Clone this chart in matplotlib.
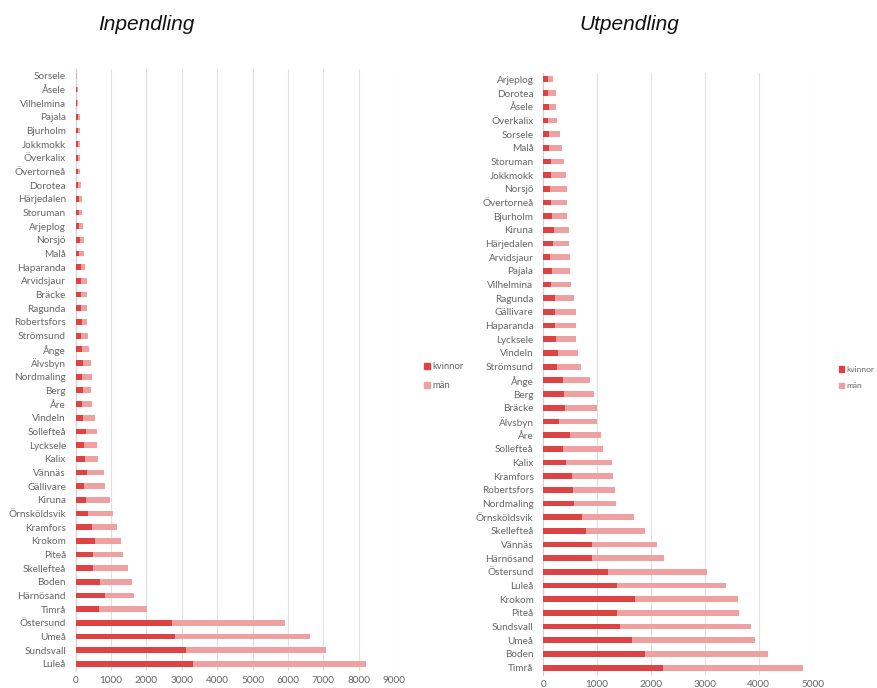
import matplotlib
matplotlib.use("Agg")
import matplotlib.pyplot as plt
from matplotlib.patches import Patch

plt.rcParams['font.family'] = ['Lato', 'DejaVu Sans']

# Inpendling (top to bottom)
in_kommun = ["Sorsele", "Åsele", "Vilhelmina", "Pajala", "Bjurholm", "Jokkmokk",
             "Överkalix", "Övertorneå", "Dorotea", "Härjedalen", "Storuman", "Arjeplog",
             "Norsjö", "Malå", "Haparanda", "Arvidsjaur", "Bräcke", "Ragunda",
             "Robertsfors", "Strömsund", "Ånge", "Älvsbyn", "Nordmaling", "Berg", "Åre",
             "Vindeln", "Sollefteå", "Lycksele", "Kalix", "Vännäs", "Gällivare", "Kiruna",
             "Örnsköldsvik", "Kramfors", "Krokom", "Piteå", "Skellefteå", "Boden",
             "Härnösand", "Timrå", "Östersund", "Umeå", "Sundsvall", "Luleå"]
in_kvinnor = [15, 25, 30, 55, 60, 65, 60, 65, 65, 80, 90, 85,
              113, 104, 160, 150, 150, 141, 179, 160, 179, 198, 169, 217, 179,
              207, 292, 235, 254, 330, 226, 292, 358, 452, 546, 480, 480, 687,
              829, 659, 2731, 2806, 3117, 3324]
in_man = [23, 31, 36, 67, 72, 67, 72, 67, 76, 89, 89, 113,
          113, 141, 113, 161, 180, 189, 151, 198, 198, 235, 283, 226, 292,
          349, 301, 377, 386, 470, 593, 687, 687, 706, 725, 848, 989, 914,
          828, 1365, 3182, 3814, 3973, 4896]

# Utpendling (top to bottom)
ut_kommun = ["Arjeplog", "Dorotea", "Åsele", "Överkalix", "Sorsele", "Malå", "Storuman",
             "Jokkmokk", "Norsjö", "Övertorneå", "Bjurholm", "Kiruna", "Härjedalen",
             "Arvidsjaur", "Pajala", "Vilhelmina", "Ragunda", "Gällivare", "Haparanda",
             "Lycksele", "Vindeln", "Strömsund", "Ånge", "Berg", "Bräcke", "Älvsbyn",
             "Åre", "Sollefteå", "Kalix", "Kramfors", "Robertsfors", "Nordmaling",
             "Örnsköldsvik", "Skellefteå", "Vännäs", "Härnösand", "Östersund", "Luleå",
             "Krokom", "Piteå", "Sundsvall", "Umeå", "Boden", "Timrå"]
ut_kvinnor = [80, 80, 105, 87, 105, 99, 136, 149, 124, 149, 161, 204, 173,
              118, 161, 136, 223, 223, 210, 235, 272, 260, 371, 377, 402, 291,
              495, 365, 427, 532, 545, 575, 712, 786, 897, 897, 1194, 1361,
              1702, 1374, 1417, 1640, 1887, 2215]
ut_man = [99, 149, 136, 173, 211, 241, 254, 266, 309, 284, 272, 279, 310,
          377, 340, 384, 346, 377, 396, 371, 372, 439, 495, 564, 588, 711,
          576, 743, 848, 755, 785, 780, 965, 1108, 1213, 1349, 1838, 2024,
          1912, 2252, 2432, 2289, 2284, 2599]

KVINNOR_COLOR = "#DE4343"
MAN_COLOR = "#EFA0A0"
GRID_COLOR = "#E0E0E0"
TEXT_COLOR = "#666666"

fig = plt.figure(figsize=(8.78, 6.88), dpi=100)
W, H = 878, 688


def px_axes(x0, x1, y0, y1):
    return fig.add_axes([x0 / W, 1 - y1 / H, (x1 - x0) / W, (y1 - y0) / H])


def draw(ax, names, kv, mn, xmax, step, xpad):
    y = list(range(len(names)))
    ax.barh(y, kv, height=0.42, color=KVINNOR_COLOR, zorder=3)
    ax.barh(y, mn, left=kv, height=0.42, color=MAN_COLOR, zorder=3)
    ax.set_ylim(len(names) - 0.5, -0.5)
    ax.set_xlim(0, xmax)
    ax.set_yticks(y)
    ax.set_yticklabels(names)
    ax.set_xticks(range(0, xmax + 1, step))
    ax.grid(axis="x", color=GRID_COLOR, linewidth=0.8, zorder=0)
    for s in ["top", "right", "bottom"]:
        ax.spines[s].set_visible(False)
    ax.spines["left"].set_color("#D0D0D0")
    ax.spines["left"].set_linewidth(0.8)
    ax.tick_params(axis="both", length=0, colors=TEXT_COLOR, labelsize=7.2)
    ax.tick_params(axis="y", pad=7)
    ax.tick_params(axis="x", pad=xpad)


ax1 = px_axes(75.7, 394, 68.9, 670.8)
draw(ax1, in_kommun, in_kvinnor, in_man, 9000, 1000, 4)

ax2 = px_axes(543.3, 812.7, 72.5, 674.5)
draw(ax2, ut_kommun, ut_kvinnor, ut_man, 5000, 1000, 4)

fig.text(146 / W, 1 - 24 / H, "Inpendling", style="italic", fontsize=15,
         ha="center", va="center", color="#111111",
         family=["Liberation Sans", "DejaVu Sans"])
fig.text(629 / W, 1 - 24 / H, "Utpendling", style="italic", fontsize=15,
         ha="center", va="center", color="#111111",
         family=["Liberation Sans", "DejaVu Sans"])

handles = [Patch(color=KVINNOR_COLOR, label="kvinnor"),
           Patch(color=MAN_COLOR, label="män")]
for (lx, ly, fs) in [(424, 362, 6.8), (839, 366, 6.0)]:
    fig.legend(handles=handles, loc="upper left", bbox_to_anchor=(lx / W, 1 - ly / H),
               frameon=False, fontsize=fs, handlelength=0.6, handleheight=0.6,
               handletextpad=0.3, labelspacing=1.1, labelcolor=TEXT_COLOR,
               borderpad=0, borderaxespad=0)

fig.savefig("out.png", dpi=100)
